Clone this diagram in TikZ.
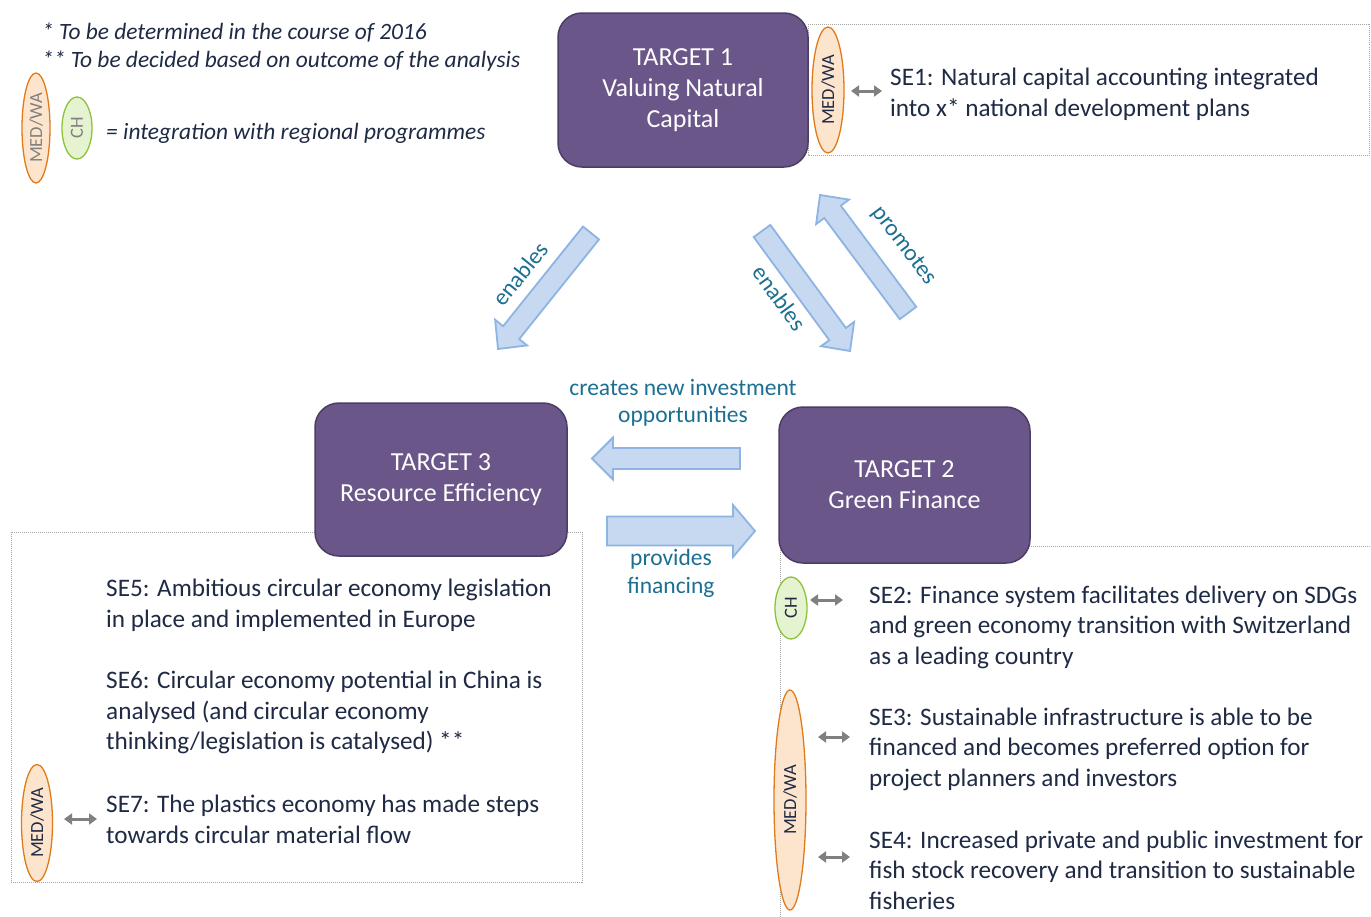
\documentclass[tikz,border=0pt]{standalone}
\usepackage{fontspec}
\setmainfont{Carlito}
\usetikzlibrary{calc,shapes.geometric,arrows.meta}
\definecolor{tpurple}{HTML}{6A5688}
\definecolor{tpborder}{HTML}{4B3D66}
\definecolor{bfill}{HTML}{C6D9F1}
\definecolor{bborder}{HTML}{8DB4E2}
\definecolor{teal}{HTML}{1C6F93}
\definecolor{navy}{HTML}{1F2A44}
\definecolor{ofill}{HTML}{FDE5CD}
\definecolor{oborder}{HTML}{E07B1A}
\definecolor{gfill}{HTML}{E5F3D0}
\definecolor{gborder}{HTML}{8DC23E}
\definecolor{darrow}{HTML}{808080}
\definecolor{dotgrey}{HTML}{A6A6A6}
\newcommand\blockarr[5]{%
 \coordinate (#1hb) at ($(#2)!#5!(#1)$);
 \draw[barrow] ($(#1)!#3!90:(#2)$) -- ($(#1hb)!#3!-90:(#1)$) -- ($(#1hb)!#4!-90:(#1)$) -- (#2) -- ($(#1hb)!#4!90:(#1)$) -- ($(#1hb)!#3!90:(#1)$) -- ($(#1)!#3!-90:(#2)$) -- cycle;}
\begin{document}
\begin{tikzpicture}[x=1pt,y=-1pt,
  target/.style={draw=tpborder, line width=1.5pt, fill=tpurple, rounded corners=24pt,
    text=white, align=center, inner sep=0pt, font=\fontsize{26}{31}\selectfont},
  setext/.style={anchor=west, align=left, text=navy, inner sep=0pt, font=\fontsize{25.2}{30.5}\selectfont},
  lbl/.style={text=teal, align=center, inner sep=0pt, font=\fontsize{23.5}{27.5}\selectfont},
  barrow/.style={draw=bborder, fill=bfill, line width=1.8pt, line join=miter},
  dotbox/.style={draw=dotgrey, densely dotted, line width=1pt},
  orgell/.style={ellipse, draw=oborder, fill=ofill, line width=1.3pt, inner sep=0pt, rotate=90,
    text=navy, font=\fontsize{18.5}{18.5}\selectfont},
  grnell/.style={ellipse, draw=gborder, fill=gfill, line width=1.3pt, inner sep=0pt, rotate=90,
    text=navy, font=\fontsize{18.5}{18.5}\selectfont},
  dbl/.style={draw=darrow, line width=3pt, {Triangle[length=8pt,width=11pt]}-{Triangle[length=8pt,width=11pt]}}
]
\useasboundingbox (0,0) rectangle (1371,916);
\clip (0,0) rectangle (1371,916);
\fill[white] (0,0) rectangle (1371,916);

% dotted boxes
\draw[dotbox] (808,24) rectangle (1369.5,155);
\draw[dotbox] (11,532) rectangle (582,882);
\draw[dotbox] (780,546) rectangle (1376,940);

% legend
\node[anchor=west, align=left, text=navy, inner sep=0pt, font=\fontsize{23.4}{28}\selectfont\itshape] (leg) at (42,47)
  {* To be determined in the course of 2016\\** To be decided based on outcome of the analysis};
\node[orgell, minimum width=110pt, minimum height=28pt, text=darrow] (legMW) at (36,128) {MED/WA};
\node[grnell, minimum width=62pt, minimum height=30pt, text=darrow] (legCH) at (77,128) {CH};
\node[anchor=west, text=navy, inner sep=0pt, font=\fontsize{23.4}{28}\selectfont\itshape] (legtxt) at (106,133)
  {= integration with regional programmes};

% targets
\node[target, minimum width=250pt, minimum height=154pt] (t1) at (683,90) {TARGET 1\\Valuing Natural\\Capital};
\node[target, minimum width=252pt, minimum height=153pt] (t3) at (441,479.5) {TARGET 3\\Resource Efficiency};
\node[target, minimum width=251pt, minimum height=156pt] (t2) at (904.5,485) {TARGET 2\\Green Finance};

% SE1
\node[orgell, minimum width=126pt, minimum height=32pt] (se1mw) at (828,90) {MED/WA};
\node[setext] (se1) at (890,94.5) {SE1: Natural capital accounting integrated\\into x* national development plans};
\coordinate (d1a) at (851,91); \coordinate (d1b) at (882,91);
\draw[dbl] (d1a) -- (d1b);

% right SE box
\node[grnell, minimum width=62pt, minimum height=32pt] (chR) at (791,608) {CH};
\node[orgell, minimum width=220pt, minimum height=32pt] (mwR) at (790,800) {MED/WA};
\node[setext] (se2) at (869,627) {SE2: Finance system facilitates delivery on SDGs\\and green economy transition with Switzerland\\as a leading country};
\node[setext] (se3) at (869,749) {SE3: Sustainable infrastructure is able to be\\financed and becomes preferred option for\\project planners and investors};
\node[setext] (se4) at (869,870) {SE4: Increased private and public investment for\\fish stock recovery and transition to sustainable\\fisheries};
\coordinate (d2a) at (810,600); \coordinate (d2b) at (843,600);
\coordinate (d3a) at (818,737); \coordinate (d3b) at (850,737);
\coordinate (d4a) at (818,857); \coordinate (d4b) at (850,857);
\draw[dbl] (d2a) -- (d2b);
\draw[dbl] (d3a) -- (d3b);
\draw[dbl] (d4a) -- (d4b);

% left SE box
\node[orgell, minimum width=117pt, minimum height=31pt] (mwL) at (37,823) {MED/WA};
\node[setext] (se5) at (106,605.5) {SE5: Ambitious circular economy legislation\\in place and implemented in Europe};
\node[setext] (se6) at (106,712.5) {SE6: Circular economy potential in China is\\analysed (and circular economy\\thinking/legislation is catalysed) **};
\node[setext] (se7) at (106,819.5) {SE7: The plastics economy has made steps\\towards circular material flow};
\coordinate (d7a) at (64,819); \coordinate (d7b) at (97,819);
\draw[dbl] (d7a) -- (d7b);

% block arrows
\coordinate (a1t) at (591,233); \coordinate (a1h) at (498,349);
\blockarr{a1t}{a1h}{10.3pt}{20.5pt}{21pt}
\coordinate (a2t) at (762,231); \coordinate (a2h) at (850,351);
\blockarr{a2t}{a2h}{10.3pt}{20.5pt}{21pt}
\coordinate (a3t) at (908,313); \coordinate (a3h) at (820,195);
\blockarr{a3t}{a3h}{10.3pt}{20.5pt}{21pt}
\coordinate (a4t) at (740,458.5); \coordinate (a4h) at (592,458.5);
\blockarr{a4t}{a4h}{10.5pt}{21pt}{21pt}
\coordinate (a5t) at (607,531); \coordinate (a5h) at (755,531);
\blockarr{a5t}{a5h}{14.5pt}{26pt}{22pt}

% arrow labels
\node[lbl, rotate=51] (l1) at (520,274) {enables};
\node[lbl, rotate=-54] (l2) at (780,298) {enables};
\node[lbl, rotate=-53] (l3) at (904,246) {promotes};
\node[lbl] (l4) at (683,403) {creates new investment\\opportunities};
\node[lbl] (l5) at (671,573.5) {provides\\financing};
\end{tikzpicture}
\end{document}
